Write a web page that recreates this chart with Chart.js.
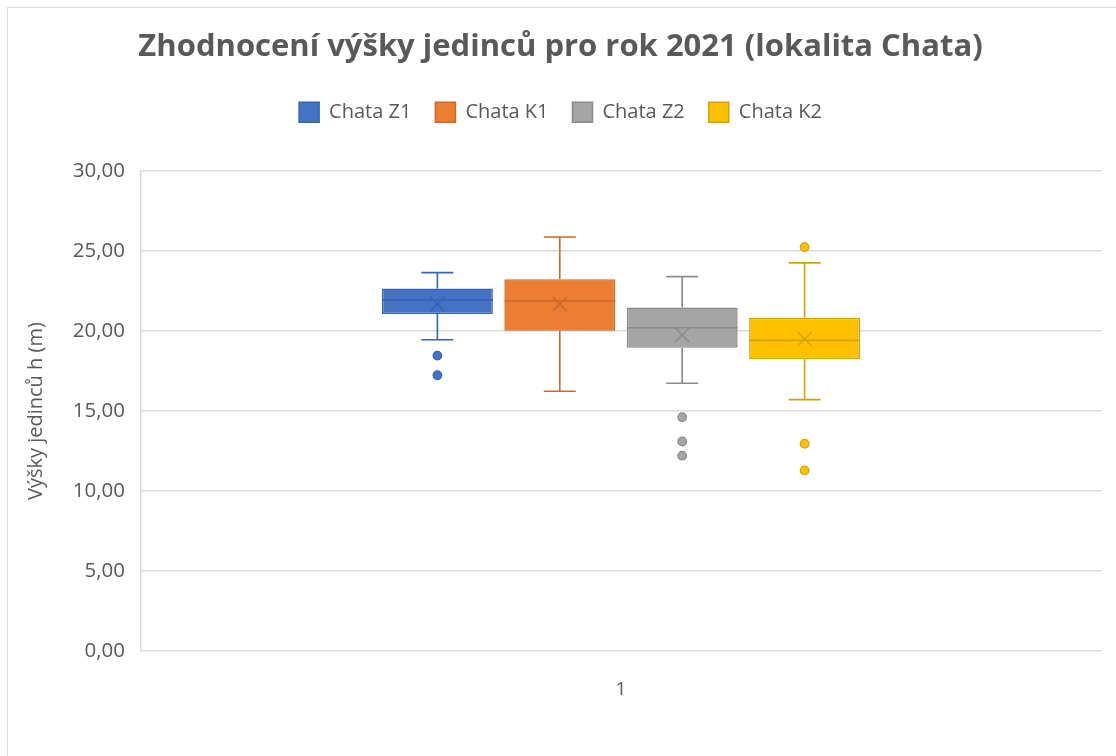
<!DOCTYPE html>
<html>
<head>
<meta charset="utf-8">
<script src="https://cdn.jsdelivr.net/npm/chart.js@4.4.1/dist/chart.umd.min.js"></script>
<style>
  html, body { margin: 0; padding: 0; background: #fff; overflow: hidden; }
  #wrap { position: relative; width: 1116px; height: 756px; overflow: hidden; }
  #frame { position: absolute; left: 7px; top: 7px; width: 1200px; height: 800px; border: 1px solid #d9d9d9; }
  canvas { position: absolute; left: 0; top: 0; }
</style>
</head>
<body>
<div id="wrap">
  <div id="frame"></div>
  <canvas id="boxChart" width="1116" height="756"></canvas>
</div>
<script>
// data
const categories = ['1'];
const seriesNames = ['Chata Z1', 'Chata K1', 'Chata Z2', 'Chata K2'];
const whiskerLow  = [19.46, 16.24, 16.74, 15.72];
const q1          = [21.07, 20.02, 18.96, 18.26];
const median      = [21.94, 21.88, 20.21, 19.42];
const q3          = [22.66, 23.25, 21.48, 20.84];
const whiskerHigh = [23.66, 25.89, 23.41, 24.27];
const means       = [21.69, 21.69, 19.76, 19.51];
const outliers    = [[18.47, 17.24], [], [14.62, 13.10, 12.21], [25.25, 12.96, 11.29]];
const yTickLabels = ['0,00', '5,00', '10,00', '15,00', '20,00', '25,00', '30,00'];

const fills = ['#4472C4', '#ED7D31', '#A5A5A5', '#FFC000'];
const lines = ['#3763B0', '#C96A2C', '#8A8A8A', '#D4A200'];
const textColor = '#595959';
const font = "'Open Sans', 'Noto Sans', sans-serif";

// whiskers, median, mean cross and outlier dots on top of the floating bars
const boxParts = {
  id: 'boxParts',
  afterDatasetsDraw(chart) {
    const ctx = chart.ctx;
    const y = chart.scales.y;
    chart.data.datasets.forEach((ds, i) => {
      const bar = chart.getDatasetMeta(i).data[0];
      const x = bar.x, half = bar.width / 2, cap = 16, s = 7;
      const yHi = y.getPixelForValue(whiskerHigh[i]);
      const yLo = y.getPixelForValue(whiskerLow[i]);
      const yQ1 = y.getPixelForValue(q1[i]);
      const yQ3 = y.getPixelForValue(q3[i]);
      const yMed = y.getPixelForValue(median[i]);
      const yMean = y.getPixelForValue(means[i]);
      ctx.save();
      ctx.strokeStyle = lines[i];
      ctx.lineWidth = 1.6;
      ctx.beginPath();
      ctx.moveTo(x, yQ3); ctx.lineTo(x, yHi);
      ctx.moveTo(x - cap, yHi); ctx.lineTo(x + cap, yHi);
      ctx.moveTo(x, yQ1); ctx.lineTo(x, yLo);
      ctx.moveTo(x - cap, yLo); ctx.lineTo(x + cap, yLo);
      ctx.moveTo(x - half, yMed); ctx.lineTo(x + half, yMed);
      ctx.moveTo(x - s, yMean - s); ctx.lineTo(x + s, yMean + s);
      ctx.moveTo(x + s, yMean - s); ctx.lineTo(x - s, yMean + s);
      ctx.stroke();
      ctx.lineWidth = 1.2;
      outliers[i].forEach(v => {
        ctx.beginPath();
        ctx.arc(x, y.getPixelForValue(v), 4.3, 0, Math.PI * 2);
        ctx.fillStyle = fills[i];
        ctx.fill();
        ctx.stroke();
      });
      ctx.restore();
    });
  }
};

// extra space between legend and plot
const legendGap = {
  id: 'legendGap',
  beforeInit(chart) {
    const origFit = chart.legend.fit;
    chart.legend.fit = function () {
      origFit.bind(chart.legend)();
      this.height += 39;
    };
  }
};

const ctx = document.getElementById('boxChart').getContext('2d');
new Chart(ctx, {
  type: 'bar',
  data: {
    labels: categories,
    datasets: seriesNames.map((name, i) => ({
      label: name,
      data: [[q1[i], q3[i]]],
      backgroundColor: fills[i],
      borderColor: lines[i],
      borderWidth: 1.5,
      borderSkipped: false,
      categoryPercentage: 0.51,
      barPercentage: 0.906
    }))
  },
  options: {
    responsive: false,
    animation: false,
    devicePixelRatio: 1,
    layout: { padding: { left: 20, right: 15, top: 0, bottom: 0 } },
    plugins: {
      title: {
        display: true,
        text: 'Zhodnocení výšky jedinců pro rok 2021 (lokalita Chata)',
        color: textColor,
        font: { family: font, size: 31, weight: 'bold' },
        padding: { top: 29, bottom: 12 }
      },
      legend: {
        position: 'top',
        labels: {
          color: textColor,
          font: { family: font, size: 20 },
          boxWidth: 20,
          boxHeight: 20,
          padding: 24
        }
      },
      tooltip: { enabled: false }
    },
    scales: {
      x: {
        grid: { display: false },
        border: { display: false },
        ticks: { color: textColor, font: { family: font, size: 19 }, padding: 19 },
        afterFit(scale) { scale.height = 105; }
      },
      y: {
        min: 0,
        max: 30,
        ticks: {
          stepSize: 5,
          color: textColor,
          font: { family: font, size: 20.5 },
          padding: 16,
          callback: (v, i) => yTickLabels[i]
        },
        grid: { color: '#d9d9d9', lineWidth: 1.5, drawTicks: false },
        border: { display: true, color: '#d9d9d9', width: 1.5 },
        title: {
          display: true,
          text: 'Výšky jedinců h (m)',
          color: textColor,
          font: { family: font, size: 20 }
        },
        afterFit(scale) { scale.width = 121; }
      }
    }
  },
  plugins: [boxParts, legendGap]
});
</script>
</body>
</html>
